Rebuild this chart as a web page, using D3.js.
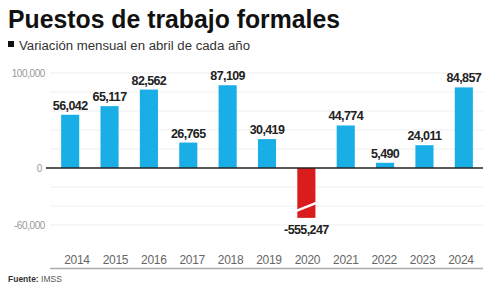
<!DOCTYPE html>
<html>
<head>
<meta charset="utf-8">
<script src="https://cdn.jsdelivr.net/npm/d3@7"></script>
<style>
  body { margin: 0; background: #fff; }
  svg { display: block; font-family: "Liberation Sans", Arial, sans-serif; }
</style>
</head>
<body>
<svg></svg>
<script>
var years = ["2014", "2015", "2016", "2017", "2018", "2019", "2020", "2021", "2022", "2023", "2024"];
var values = [56042, 65117, 82562, 26765, 87109, 30419, -555247, 44774, 5490, 24011, 84857];
var yTicks = [100000, 0, -60000];
var gridTicks = [100000, 80000, 60000, 40000, 20000, -20000, -40000, -60000];
var clipValue = -52500;   // cut bar for the 2020 drop
var breakValue = -41000;

var svgWidth = 490, svgHeight = 286;
var svg = d3.select("svg").attr("width", svgWidth).attr("height", svgHeight);

var scale = {};
scale.x = d3.scaleBand().domain(years).range([50.5, 483.5]).paddingInner(0.54).paddingOuter(0.27);
scale.xLabel = d3.scalePoint().domain(years).range([77, 461]);
scale.y = d3.scaleLinear().domain([-60000, 100000]).range([225, 73]);

// plain hyphen for negatives, like the original
var fmt = function(v){ return d3.format(",")(v).replace("\u2212", "-"); };

/* title */
svg.append("text")
    .attr("x", 8).attr("y", 28)
    .attr("font-size", 26).attr("font-weight", "bold").attr("fill", "#111")
    .attr("textLength", 332).attr("lengthAdjust", "spacingAndGlyphs")
    .text("Puestos de trabajo formales");

svg.append("rect").attr("x", 8).attr("y", 41).attr("width", 6).attr("height", 6).attr("fill", "#111");
svg.append("text")
    .attr("x", 19).attr("y", 50)
    .attr("font-size", 12.5).attr("fill", "#333")
    .attr("textLength", 231).attr("lengthAdjust", "spacingAndGlyphs")
    .text("Variación mensual en abril de cada año");

/* grid */
svg.append("g").selectAll("line")
    .data(gridTicks)
    .enter().append("line")
    .attr("x1", 50).attr("x2", 483)
    .attr("y1", function(d){ return scale.y(d); })
    .attr("y2", function(d){ return scale.y(d); })
    .attr("stroke", "#efefef").attr("stroke-width", 1);

/* y labels */
svg.append("g").selectAll("text")
    .data(yTicks)
    .enter().append("text")
    .attr("x", function(d){ return d === 0 ? 42 : 45; })
    .attr("y", function(d){ return scale.y(d) + 4; })
    .attr("text-anchor", "end")
    .attr("font-size", 10).attr("fill", "#999")
    .attr("letter-spacing", -0.4)
    .text(function(d){ return fmt(d); });

/* bars */
var barG = svg.append("g");
barG.selectAll("rect")
    .data(values)
    .enter().append("rect")
    .attr("x", function(d, i){ return scale.x(years[i]); })
    .attr("width", scale.x.bandwidth())
    .attr("y", function(d){ return d >= 0 ? scale.y(d) : scale.y(0); })
    .attr("height", function(d){
      return d >= 0 ? scale.y(0) - scale.y(d) : scale.y(Math.max(d, clipValue)) - scale.y(0);
    })
    .attr("fill", function(d){ return d >= 0 ? "#1aaee6" : "#d91c1c"; });

/* break mark on the negative bar */
values.forEach(function(d, i){
  if (d < clipValue) {
    var x0 = scale.x(years[i]) - 1, x1 = scale.x(years[i]) + scale.x.bandwidth() + 1;
    svg.append("line")
        .attr("x1", x0).attr("x2", x1)
        .attr("y1", scale.y(breakValue) + 4).attr("y2", scale.y(breakValue) - 4)
        .attr("stroke", "#fff").attr("stroke-width", 2.5);
  }
});

/* zero line */
svg.append("line")
    .attr("x1", 46).attr("x2", 483)
    .attr("y1", scale.y(0)).attr("y2", scale.y(0))
    .attr("stroke", "#222").attr("stroke-width", 1.5);

/* value labels */
svg.append("g").selectAll("text")
    .data(values)
    .enter().append("text")
    .attr("x", function(d, i){ return scale.x(years[i]) + scale.x.bandwidth() / 2; })
    .attr("y", function(d){ return d >= 0 ? scale.y(d) - 5 : scale.y(Math.max(d, clipValue)) + 16; })
    .attr("text-anchor", "middle")
    .attr("font-size", 12.5).attr("font-weight", "bold").attr("fill", "#222")
    .attr("letter-spacing", -0.6)
    .text(function(d){ return fmt(d); });

/* year labels */
svg.append("g").selectAll("text")
    .data(years)
    .enter().append("text")
    .attr("x", function(d){ return scale.xLabel(d); })
    .attr("y", 264)
    .attr("text-anchor", "middle")
    .attr("font-size", 12).attr("fill", "#666")
    .attr("letter-spacing", -0.3)
    .text(function(d){ return d; });

/* bottom rule */
svg.append("line")
    .attr("x1", 50).attr("x2", 483)
    .attr("y1", 268.5).attr("y2", 268.5)
    .attr("stroke", "#aaa").attr("stroke-width", 1.5);

var src = svg.append("text").attr("x", 8).attr("y", 282).attr("font-size", 8.5).attr("fill", "#333");
src.append("tspan").attr("font-weight", "bold").text("Fuente:");
src.append("tspan").attr("fill", "#555").text(" IMSS");
</script>
</body>
</html>
